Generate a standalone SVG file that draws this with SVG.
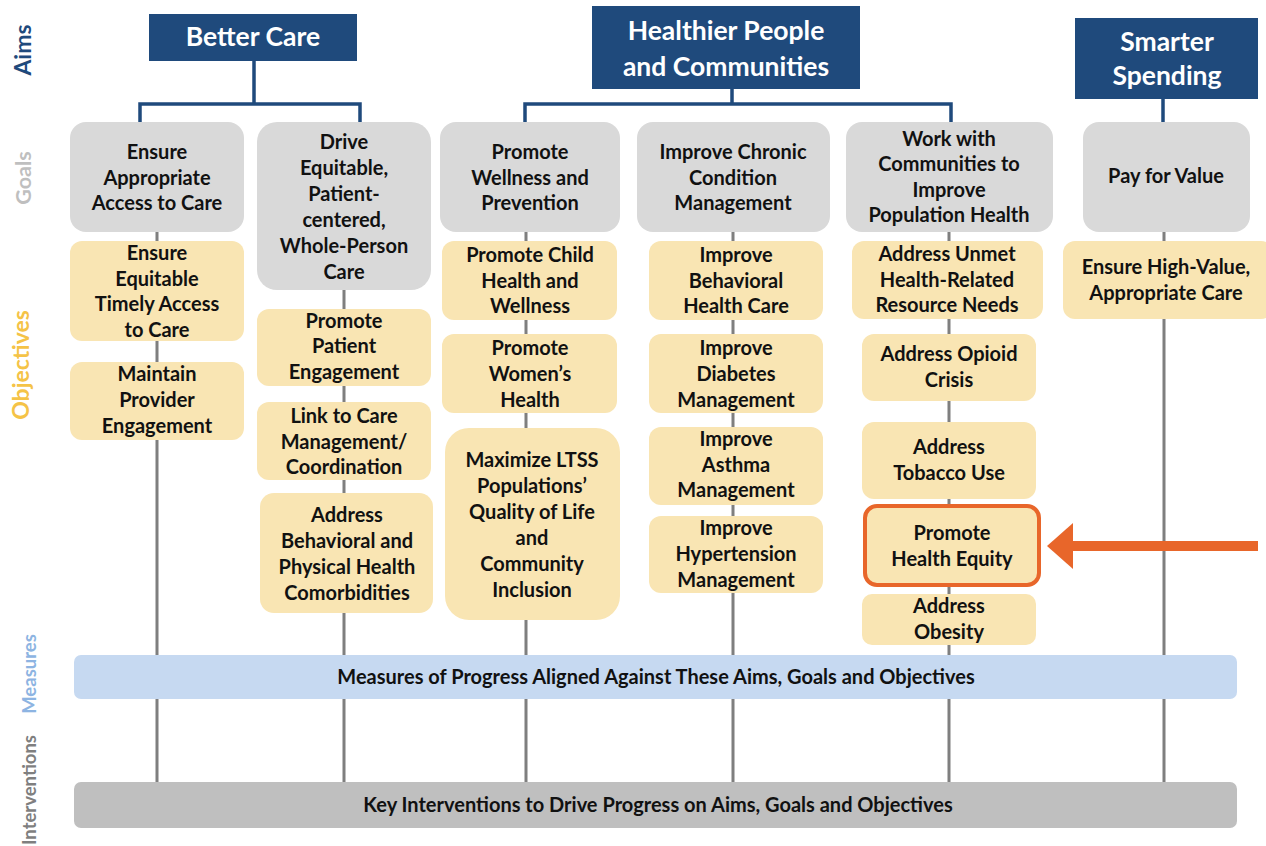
<svg xmlns="http://www.w3.org/2000/svg" width="1266" height="846" viewBox="0 0 1266 846">
<style>
text{font-family:Lato,"Open Sans","Liberation Sans",sans-serif;font-weight:bold;text-anchor:middle;fill:#111}
.aim rect{fill:#1F4A7C}
.aim text{fill:#fff;font-size:26.5px}
.goal rect{fill:#D9D9D9}
.obj rect{fill:#F9E5B3}
.goal text,.obj text{font-size:20px}
.side{font-size:23px}
.side.sm{font-size:18.5px}
.blue{stroke:#1F4A7C;stroke-width:3.5;fill:none}
.gray{stroke:#7F7F7F;stroke-width:3;fill:none}
.bar text{font-size:20px}
</style>
<rect width="1266" height="846" fill="#fff"/>

<g id="side-labels">
<text class="side" transform="translate(31,50) rotate(-90)" style="fill:#1F4A7C">Aims</text>
<text class="side" transform="translate(31,178) rotate(-90)" style="fill:#BFBFBF;font-size:21.5px">Goals</text>
<text class="side" transform="translate(29,365) rotate(-90)" style="fill:#F5C347">Objectives</text>
<text class="side sm" transform="translate(36,674) rotate(-90)" style="fill:#8DB4E2">Measures</text>
<text class="side sm" transform="translate(36,790) rotate(-90)" style="fill:#7F7F7F">Interventions</text>
</g>

<g id="connectors">
<path class="gray" d="M157 232V782M344 290V782M526 232V782M733 232V782M949 232V782M1164 232V782"/>
<path class="blue" d="M254 61V104M140 122V104H360V122"/>
<path class="blue" d="M732 89V104M525 122V104H951V122"/>
<path class="blue" d="M1163 99V122"/>
</g>

<g id="aim-better-care" class="aim"><rect x="149" y="14" width="208" height="47"/><text x="253" y="46">Better Care</text></g>
<g id="aim-healthier" class="aim"><rect x="592" y="6" width="268" height="83"/><text x="726" y="40">Healthier People</text><text x="726" y="76">and Communities</text></g>
<g id="aim-smarter" class="aim"><rect x="1075" y="18" width="183" height="81"/><text x="1167" y="51">Smarter</text><text x="1167" y="85">Spending</text></g>

<g id="goal-access" class="goal"><rect x="70" y="122" width="174" height="110" rx="16"/><text><tspan x="157" y="159">Ensure</tspan><tspan x="157" y="185">Appropriate</tspan><tspan x="157" y="210">Access to Care</tspan></text></g>
<g id="goal-equitable" class="goal"><rect x="257" y="122" width="174" height="168" rx="20"/><text><tspan x="344" y="149">Drive</tspan><tspan x="344" y="175">Equitable,</tspan><tspan x="344" y="201">Patient-</tspan><tspan x="344" y="227">centered,</tspan><tspan x="344" y="253">Whole-Person</tspan><tspan x="344" y="279">Care</tspan></text></g>
<g id="goal-wellness" class="goal"><rect x="440" y="122" width="180" height="110" rx="16"/><text><tspan x="530" y="159">Promote</tspan><tspan x="530" y="185">Wellness and</tspan><tspan x="530" y="210">Prevention</tspan></text></g>
<g id="goal-chronic" class="goal"><rect x="637" y="122" width="193" height="110" rx="16"/><text><tspan x="733" y="159">Improve Chronic</tspan><tspan x="733" y="185">Condition</tspan><tspan x="733" y="210">Management</tspan></text></g>
<g id="goal-communities" class="goal"><rect x="846" y="122" width="207" height="110" rx="16"/><text><tspan x="949" y="146">Work with</tspan><tspan x="949" y="171">Communities to</tspan><tspan x="949" y="197">Improve</tspan><tspan x="949" y="222">Population Health</tspan></text></g>
<g id="goal-value" class="goal"><rect x="1083" y="122" width="167" height="110" rx="16"/><text x="1166" y="183">Pay for Value</text></g>

<g id="obj-timely-access" class="obj"><rect x="70" y="241" width="174" height="100" rx="12"/><text><tspan x="157" y="260">Ensure</tspan><tspan x="157" y="286">Equitable</tspan><tspan x="157" y="311">Timely Access</tspan><tspan x="157" y="337">to Care</tspan></text></g>
<g id="obj-provider" class="obj"><rect x="70" y="362" width="174" height="78" rx="12"/><text><tspan x="157" y="381">Maintain</tspan><tspan x="157" y="407">Provider</tspan><tspan x="157" y="433">Engagement</tspan></text></g>

<g id="obj-patient-engagement" class="obj"><rect x="257" y="309" width="174" height="77" rx="12"/><text><tspan x="344" y="328">Promote</tspan><tspan x="344" y="353">Patient</tspan><tspan x="344" y="379">Engagement</tspan></text></g>
<g id="obj-care-coordination" class="obj"><rect x="257" y="402" width="174" height="78" rx="12"/><text><tspan x="344" y="423">Link to Care</tspan><tspan x="344" y="449">Management/</tspan><tspan x="344" y="474">Coordination</tspan></text></g>
<g id="obj-comorbidities" class="obj"><rect x="260" y="493" width="173" height="120" rx="14"/><text><tspan x="347" y="522">Address</tspan><tspan x="347" y="548">Behavioral and</tspan><tspan x="347" y="574">Physical Health</tspan><tspan x="347" y="600">Comorbidities</tspan></text></g>

<g id="obj-child" class="obj"><rect x="442" y="241" width="175" height="79" rx="12"/><text><tspan x="530" y="262">Promote Child</tspan><tspan x="530" y="288">Health and</tspan><tspan x="530" y="313">Wellness</tspan></text></g>
<g id="obj-women" class="obj"><rect x="442" y="334" width="175" height="79" rx="12"/><text><tspan x="530" y="355">Promote</tspan><tspan x="530" y="381">Women’s</tspan><tspan x="530" y="407">Health</tspan></text></g>
<g id="obj-ltss" class="obj"><rect x="445" y="428" width="175" height="192" rx="24"/><text><tspan x="532" y="467">Maximize LTSS</tspan><tspan x="532" y="493">Populations’</tspan><tspan x="532" y="519">Quality of Life</tspan><tspan x="532" y="545">and</tspan><tspan x="532" y="571">Community</tspan><tspan x="532" y="597">Inclusion</tspan></text></g>

<g id="obj-behavioral" class="obj"><rect x="649" y="241" width="174" height="79" rx="12"/><text><tspan x="736" y="262">Improve</tspan><tspan x="736" y="288">Behavioral</tspan><tspan x="736" y="313">Health Care</tspan></text></g>
<g id="obj-diabetes" class="obj"><rect x="649" y="334" width="174" height="79" rx="12"/><text><tspan x="736" y="355">Improve</tspan><tspan x="736" y="381">Diabetes</tspan><tspan x="736" y="407">Management</tspan></text></g>
<g id="obj-asthma" class="obj"><rect x="649" y="427" width="174" height="78" rx="12"/><text><tspan x="736" y="446">Improve</tspan><tspan x="736" y="472">Asthma</tspan><tspan x="736" y="497">Management</tspan></text></g>
<g id="obj-hypertension" class="obj"><rect x="649" y="516" width="174" height="77" rx="12"/><text><tspan x="736" y="535">Improve</tspan><tspan x="736" y="561">Hypertension</tspan><tspan x="736" y="587">Management</tspan></text></g>

<g id="obj-unmet-needs" class="obj"><rect x="852" y="241" width="191" height="78" rx="12"/><text><tspan x="947" y="261">Address Unmet</tspan><tspan x="947" y="287">Health-Related</tspan><tspan x="947" y="312">Resource Needs</tspan></text></g>
<g id="obj-opioid" class="obj"><rect x="862" y="334" width="174" height="67" rx="12"/><text><tspan x="949" y="361">Address Opioid</tspan><tspan x="949" y="387">Crisis</tspan></text></g>
<g id="obj-tobacco" class="obj"><rect x="862" y="422" width="174" height="77" rx="12"/><text><tspan x="949" y="454">Address</tspan><tspan x="949" y="480">Tobacco Use</tspan></text></g>
<g id="obj-health-equity" class="obj"><rect x="865" y="506" width="174" height="79" rx="12" style="stroke:#E8662A;stroke-width:4"/><text><tspan x="952" y="540">Promote</tspan><tspan x="952" y="566">Health Equity</tspan></text></g>
<g id="obj-obesity" class="obj"><rect x="862" y="594" width="174" height="51" rx="10"/><text><tspan x="949" y="613">Address</tspan><tspan x="949" y="639">Obesity</tspan></text></g>

<g id="obj-high-value" class="obj"><rect x="1063" y="241" width="210" height="78" rx="12"/><text><tspan x="1166" y="274">Ensure High-Value,</tspan><tspan x="1166" y="300">Appropriate Care</tspan></text></g>

<g id="measures" class="bar"><rect x="74" y="655" width="1163" height="44" rx="7" fill="#C6D9F1"/><text x="656" y="684">Measures of Progress Aligned Against These Aims, Goals and Objectives</text></g>
<g id="interventions" class="bar"><rect x="74" y="782" width="1163" height="46" rx="7" fill="#BFBFBF"/><text x="658" y="812">Key Interventions to Drive Progress on Aims, Goals and Objectives</text></g>

<g id="highlight-arrow">
<rect x="1068" y="541" width="190" height="10" fill="#E8662A"/>
<polygon points="1047,546 1073,523 1073,569" fill="#E8662A"/>
</g>
</svg>
